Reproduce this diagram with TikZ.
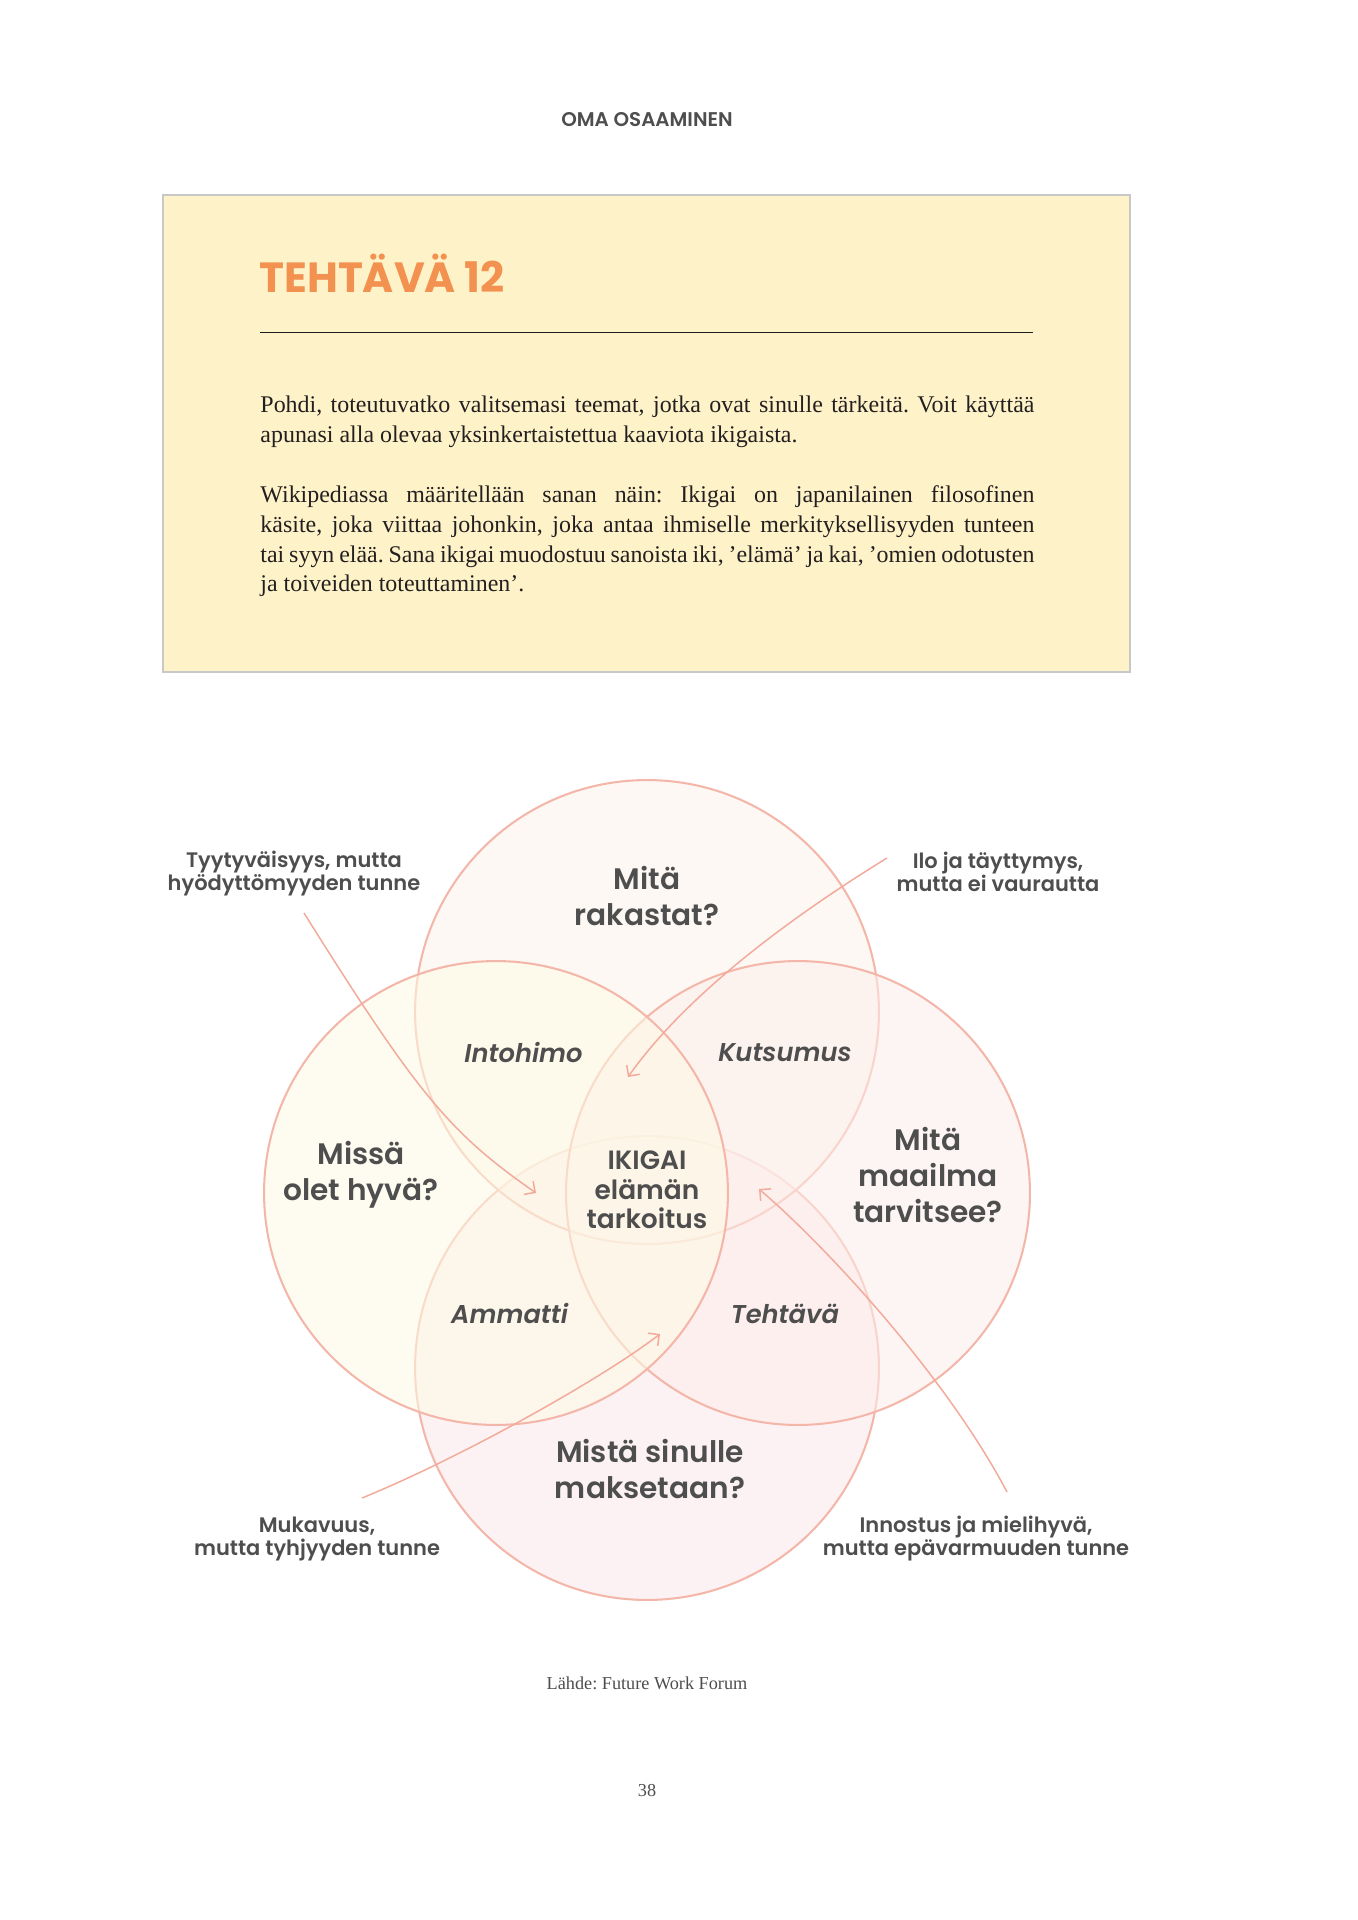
\documentclass[tikz,border=0pt]{standalone}
\usepackage{fontspec}
\usetikzlibrary{arrows.meta}
\newfontfamily\popfont{Poppins}[UprightFont=* SemiBold, BoldFont=* Bold, ItalicFont=* SemiBold Italic, BoldItalicFont=* Bold Italic]
\newfontfamily\serifbody{Liberation Serif}
\frenchspacing
\definecolor{topfill}{RGB}{253,243,235}
\definecolor{leftfill}{RGB}{254,251,228}
\definecolor{rightfill}{RGB}{252,238,234}
\definecolor{botfill}{RGB}{251,233,235}
\definecolor{vennline}{RGB}{245,182,170}
\definecolor{arrowcol}{RGB}{243,170,155}
\definecolor{txt}{RGB}{78,78,78}
\definecolor{bodytxt}{RGB}{35,31,32}
\definecolor{titleorange}{RGB}{242,145,80}
\definecolor{boxfill}{RGB}{254,243,200}
\definecolor{boxline}{RGB}{200,200,200}
\tikzset{
  venn/.style={circle, draw=vennline, line width=0.9pt, minimum size=203.5pt, inner sep=0pt, fill opacity=0.55},
  biglabel/.style={font=\popfont\fontsize{13}{15.6}\selectfont, text=txt, align=center, inner sep=0pt},
  midlabel/.style={font=\popfont\fontsize{11.6}{12.9}\selectfont, text=txt, align=center, inner sep=0pt},
  itlabel/.style={font=\popfont\itshape\fontsize{11.3}{13}\selectfont, text=txt, inner sep=0pt},
  sidelabel/.style={font=\popfont\fontsize{9.2}{10.1}\selectfont, text=txt, align=center, inner sep=0pt},
  bodyline/.style={font=\serifbody\fontsize{10.5}{13}\selectfont, text=bodytxt, anchor=base west, inner sep=0pt},
  smallserif/.style={font=\serifbody\fontsize{8}{10}\selectfont, text=txt, anchor=base, inner sep=0pt},
  arr/.style={draw=arrowcol, line width=0.65pt, -{Straight Barb[length=3.5pt,width=7pt]}}
}
\begin{document}
\begin{tikzpicture}[x=0.43868pt,y=-0.43868pt]
\useasboundingbox (0,0) rectangle (1357,1920);
\fill[white] (0,0) rectangle (1357,1920);

% header
\node[font=\popfont\fontsize{8.7}{10}\selectfont, text=txt, anchor=base, inner sep=0pt] (header) at (647,126.7) {OMA OSAAMINEN};

% yellow box
\path[draw=boxline, fill=boxfill, line width=0.5pt] (163,195) rectangle (1130,672);
\node[font=\popfont\bfseries\fontsize{18.5}{21}\selectfont, text=titleorange, anchor=base west, inner sep=0pt] (title) at (259,292) {TEHTÄVÄ 12};
\draw[line width=0.55pt, color=black!88] (260,332.3) -- (1033,332.3);

\node[bodyline] (p1a) at (260,412.7) {\makebox[339.5pt][s]{Pohdi, toteutuvatko valitsemasi teemat, jotka ovat sinulle tärkeitä. Voit käyttää}};
\node[bodyline] (p1b) at (260,442) {apunasi alla olevaa yksinkertaistettua kaaviota ikigaista.};
\node[bodyline] (p2a) at (260,502.7) {\makebox[339.5pt][s]{Wikipediassa määritellään sanan näin: Ikigai on japanilainen filosofinen}};
\node[bodyline] (p2b) at (260,532.7) {\makebox[339.5pt][s]{käsite, joka viittaa johonkin, joka antaa ihmiselle merkityksellisyyden tunteen}};
\node[bodyline] (p2c) at (260,562.7) {\makebox[339.5pt][s]{tai syyn elää. Sana ikigai muodostuu sanoista iki, ’elämä’ ja kai, ’omien odotusten}};
\node[bodyline] (p2d) at (260,591.7) {ja toiveiden toteuttaminen’.};

% venn circles
\node[venn, fill=botfill] (cbot) at (647,1368) {};
\node[venn, fill=topfill] (ctop) at (647,1012) {};
\node[venn, fill=rightfill] (cright) at (798,1193) {};
\node[venn, fill=leftfill] (cleft) at (496,1193) {};

% circle labels
\node[biglabel] (lrak) at (647,896) {Mitä\\rakastat?};
\node[biglabel] (lhyva) at (361,1175) {Missä\\olet hyvä?};
\node[biglabel] (lmaa) at (928,1175) {Mitä\\maailma\\tarvitsee?};
\node[biglabel] (lmak) at (650,1469) {Mistä sinulle\\maksetaan?};
\node[midlabel] (liki) at (647,1190) {IKIGAI\\elämän\\tarkoitus};

% overlap labels
\node[itlabel] (lint) at (523.5,1053) {Intohimo};
\node[itlabel] (lkut) at (785,1053) {Kutsumus};
\node[itlabel] (lamm) at (509.6,1314) {Ammatti};
\node[itlabel] (lteh) at (785,1314) {Tehtävä};

% side labels
\node[sidelabel] (ltyy) at (294,874) {Tyytyväisyys, mutta\\hyödyttömyyden tunne};
\node[sidelabel] (lilo) at (998,872) {Ilo ja täyttymys,\\mutta ei vaurautta};
\node[sidelabel] (lmuk) at (317,1539) {Mukavuus,\\mutta tyhjyyden tunne};
\node[sidelabel] (linn) at (976,1539) {Innostus ja mielihyvä,\\mutta epävarmuuden tunne};

% arrows
\coordinate (a1s) at (304,913);  \coordinate (a1e) at (536,1193);
\coordinate (a2s) at (887,858);  \coordinate (a2e) at (628,1077);
\coordinate (a3s) at (362,1498); \coordinate (a3e) at (660,1334);
\coordinate (a4s) at (1007,1492); \coordinate (a4e) at (759,1189);
\draw[arr] (a1s) .. controls (418,1095) and (450,1133) .. (a1e);
\draw[arr] (a2s) .. controls (762,935) and (676,1009) .. (a2e);
\draw[arr] (a3s) .. controls (460,1458) and (600,1380) .. (a3e);
\draw[arr] (a4s) .. controls (947,1378) and (829,1249) .. (a4e);

% footer
\node[smallserif] (source) at (647,1689) {Lähde: Future Work Forum};
\node[smallserif] (pageno) at (647,1796) {38};
\end{tikzpicture}
\end{document}
